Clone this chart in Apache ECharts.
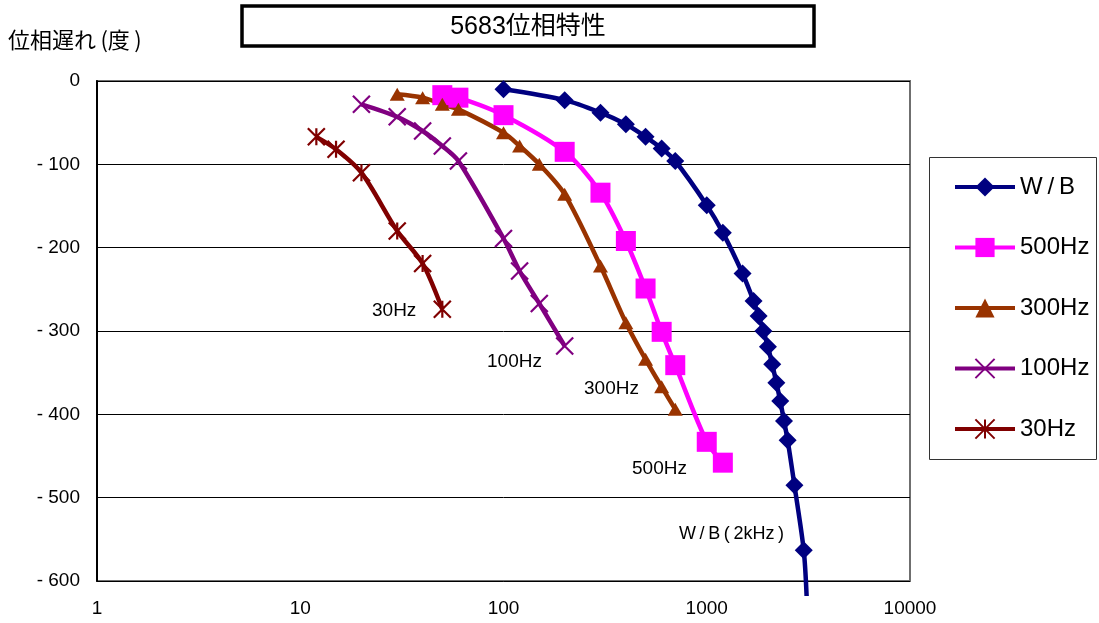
<!DOCTYPE html>
<html>
<head>
<meta charset="utf-8">
<script src="https://cdn.jsdelivr.net/npm/echarts@6/dist/echarts.min.js"></script>
<style>
html, body { margin: 0; padding: 0; background: #fff; }
#main { width: 1099px; height: 623px; }
</style>
</head>
<body>
<div id="main"></div>
<script>
// 系列名
var seriesNames = ['W\u2009/\u2009B', '500Hz', '300Hz', '100Hz', '30Hz'];

// W/B
var wbFreq = [100, 200, 300, 400, 500, 600, 700, 1000, 1200, 1500, 1700, 1800, 1900, 2000, 2100, 2200, 2300, 2400, 2500, 2700, 3000];
var wbPhase = [-10, -23, -38, -52, -67, -81, -96, -149, -182, -231, -264, -282, -300, -319, -340, -362, -384, -408, -431, -485, -563];
var wbTail = [3100, -618]; // 枠の下まで伸びる線

// 500Hz
var f500Freq = [50, 60, 100, 200, 300, 400, 500, 600, 700, 1000, 1200];
var f500Phase = [-17, -20, -41, -85, -134, -192, -249, -301, -341, -433, -458];

// 300Hz
var f300Freq = [30, 40, 50, 60, 100, 120, 150, 200, 300, 400, 500, 600, 700];
var f300Phase = [-16, -20, -28, -34, -62, -78, -100, -136, -222, -290, -334, -367, -394];

// 100Hz
var f100Freq = [20, 30, 40, 50, 60, 100, 120, 150, 200];
var f100Phase = [-28, -43, -60, -78, -96, -189, -228, -267, -318];

// 30Hz
var f30Freq = [12, 15, 20, 30, 40, 50];
var f30Phase = [-67, -82, -110, -180, -219, -274];

// 軸
var xTicks = [1, 10, 100, 1000, 10000];
var yMin = -600, yMax = 0, yStep = 100;

var FONT = '"Liberation Sans", Arial, "Noto Sans CJK JP", sans-serif';
var JP = '"Liberation Sans", "Noto Sans CJK JP", sans-serif';

var xPath = 'path://M0,0L20,20M20,0L0,20';
var starPath = 'path://M0,0L20,20M20,0L0,20M10,0L10,20';

function pairs(xs, ys) {
    return xs.map(function (x, i) { return [x, ys[i]]; });
}

var wbData = pairs(wbFreq, wbPhase);
wbData.push({ value: wbTail, symbol: 'none' });

function lineSeries(name, data, color, symbol, size, stroke) {
    return {
        name: name,
        type: 'line',
        data: data,
        smooth: 0.3,
        clip: false,
        symbol: symbol,
        symbolSize: size,
        showAllSymbol: true,
        lineStyle: { color: color, width: 4.5 },
        itemStyle: stroke
            ? { color: 'rgba(0,0,0,0)', borderColor: color, borderWidth: 2.2 }
            : { color: color, borderWidth: 0 },
        emphasis: { disabled: true },
        z: 3
    };
}

var chart = echarts.init(document.getElementById('main'));

var option = {
    backgroundColor: '#fff',
    animation: false,
    grid: {
        left: 97, right: 189, top: 81, bottom: 42,
        show: true, borderColor: '#6f6f6f', borderWidth: 2
    },
    xAxis: {
        type: 'log', logBase: 10, min: xTicks[0], max: xTicks[xTicks.length - 1],
        position: 'bottom',
        axisLine: { show: false },
        axisTick: { show: false },
        splitLine: { show: false },
        minorTick: { show: false },
        axisLabel: {
            fontSize: 19, fontFamily: FONT, color: '#000', margin: 18,
            formatter: function (v) { return String(Math.round(v)); }
        }
    },
    yAxis: {
        type: 'value', min: yMin, max: yMax, interval: yStep,
        axisLine: { show: true, onZero: false, lineStyle: { color: '#000', width: 2 } },
        axisTick: { show: true, inside: true, length: 5, lineStyle: { color: '#000' } },
        splitLine: { show: true, lineStyle: { color: '#000', width: 1 } },
        axisLabel: {
            fontSize: 19, fontFamily: FONT, color: '#000', margin: 17,
            formatter: function (v) { return v < 0 ? '- ' + Math.abs(v) : String(v); }
        }
    },
    legend: {
        orient: 'vertical', left: 948, top: 170,
        itemWidth: 60, itemHeight: 24, itemGap: 36.5,
        lineStyle: { width: 4 },
        textStyle: { fontSize: 24, fontFamily: JP, color: '#000' },
        data: seriesNames
    },
    graphic: [
        { type: 'rect', shape: { x: 242, y: 6, width: 572, height: 40 },
          style: { fill: '#fff', stroke: '#000', lineWidth: 3.5 } },
        { type: 'text', x: 528, y: 27,
          style: { text: '5683位相特性', font: '25px ' + JP, fill: '#000', align: 'center', verticalAlign: 'middle' } },
        { type: 'text', x: 8, y: 40,
          style: { text: '位相遅れ\u2009(度\u2009)', font: '22px "Noto Sans CJK JP", sans-serif', fill: '#000', verticalAlign: 'middle' } },
        { type: 'rect', shape: { x: 929.5, y: 157.5, width: 167, height: 302 },
          style: { fill: 'none', stroke: '#333', lineWidth: 1 } },
        { type: 'text', x: 372, y: 311,
          style: { text: '30Hz', font: '19px ' + FONT, fill: '#000', verticalAlign: 'middle' } },
        { type: 'text', x: 487, y: 362,
          style: { text: '100Hz', font: '19px ' + FONT, fill: '#000', verticalAlign: 'middle' } },
        { type: 'text', x: 584, y: 389,
          style: { text: '300Hz', font: '19px ' + FONT, fill: '#000', verticalAlign: 'middle' } },
        { type: 'text', x: 632, y: 469,
          style: { text: '500Hz', font: '19px ' + FONT, fill: '#000', verticalAlign: 'middle' } },
        { type: 'text', x: 679, y: 534,
          style: { text: 'W\u2009/\u2009B\u2009(\u20092kHz\u2009)', font: '18px ' + JP, fill: '#000', verticalAlign: 'middle' } }
    ],
    series: [
        lineSeries(seriesNames[0], wbData, '#000080', 'diamond', 18, false),
        lineSeries(seriesNames[1], pairs(f500Freq, f500Phase), '#ff00ff', 'rect', 20, false),
        lineSeries(seriesNames[2], pairs(f300Freq, f300Phase), '#993300', 'triangle', [15, 13], false),
        lineSeries(seriesNames[3], pairs(f100Freq, f100Phase), '#800080', xPath, 17, true),
        lineSeries(seriesNames[4], pairs(f30Freq, f30Phase), '#800000', starPath, 17, true)
    ]
};

chart.setOption(option);
</script>
</body>
</html>
